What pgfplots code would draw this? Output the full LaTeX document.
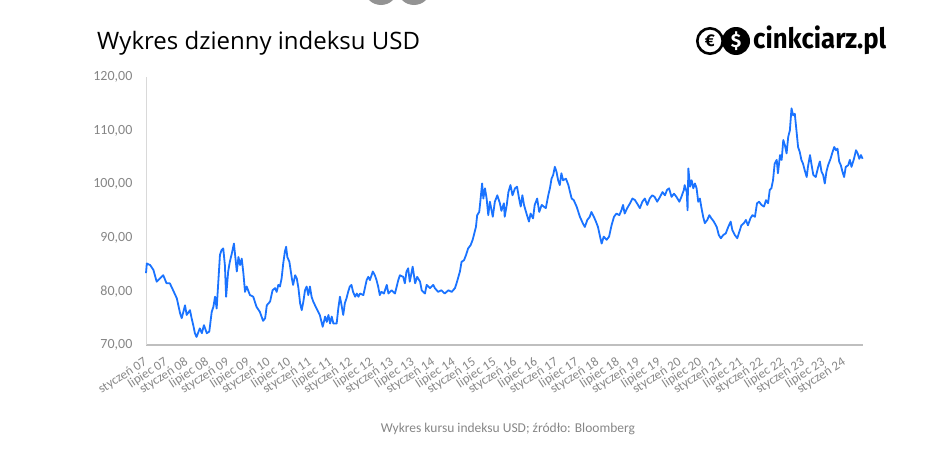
\documentclass[border=0pt]{standalone}
\usepackage{pgfplots}
\pgfplotsset{compat=1.18}
\usepackage{fontspec}
\setmainfont{Carlito}
\newfontfamily\titlefont{Open Sans}
\newfontfamily\logofont{Fira Sans}
\definecolor{usdblue}{HTML}{1A73FF}
\definecolor{labgray}{RGB}{134,134,134}
\definecolor{xaxgray}{RGB}{191,191,191}
\definecolor{yaxgray}{RGB}{217,217,217}
\begin{document}
\begin{tikzpicture}
\path[use as bounding box] (-146pt,-114pt) rectangle (802pt,345pt);
\begin{scope}
\clip (-146pt,-114pt) rectangle (802pt,345pt);
\fill[gray!85] (235pt,357pt) circle (17pt);
\fill[gray!85] (268pt,357pt) circle (17pt);
\end{scope}
\begin{axis}[
  at={(0pt,0pt)}, anchor=south west,
  scale only axis, width=717pt, height=268.3pt,
  xmin=2007, xmax=2024.45, ymin=70, ymax=120,
  axis lines=left,
  x axis line style={-, draw=xaxgray, line width=1.2pt},
  y axis line style={-, draw=yaxgray, line width=0.8pt},
  tick style={draw=none},
  ytick={70,80,90,100,110,120},
  yticklabels={{70,00},{80,00},{90,00},{100,00},{110,00},{120,00}},
  yticklabel style={font=\fontsize{14}{16}\selectfont, text=labgray, xshift=-8pt},
  xtick={2007,2007.5,2008,2008.5,2009,2009.5,2010,2010.5,2011,2011.5,2012,2012.5,2013,2013.5,2014,2014.5,2015,2015.5,2016,2016.5,2017,2017.5,2018,2018.5,2019,2019.5,2020,2020.5,2021,2021.5,2022,2022.5,2023,2023.5,2024},
  xticklabels={styczeń 07,lipiec 07,styczeń 08,lipiec 08,styczeń 09,lipiec 09,styczeń 10,lipiec 10,styczeń 11,lipiec 11,styczeń 12,lipiec 12,styczeń 13,lipiec 13,styczeń 14,lipiec 14,styczeń 15,lipiec 15,styczeń 16,lipiec 16,styczeń 17,lipiec 17,styczeń 18,lipiec 18,styczeń 19,lipiec 19,styczeń 20,lipiec 20,styczeń 21,lipiec 21,styczeń 22,lipiec 22,styczeń 23,lipiec 23,styczeń 24},
  xticklabel style={font=\fontsize{13}{15}\selectfont, text=labgray, rotate=33, anchor=east, inner sep=0pt},
  xticklabel shift=14pt,
  clip=false,
]
\addplot[usdblue, line width=1.8pt, line join=round] table {
2007.00 83.4
2007.02 85.2
2007.10 84.9
2007.18 84.0
2007.26 81.8
2007.34 82.4
2007.42 83.0
2007.50 81.5
2007.58 81.5
2007.66 80.2
2007.75 78.7
2007.83 75.9
2007.87 75.0
2007.95 77.4
2007.99 75.6
2008.07 76.5
2008.11 75.0
2008.15 73.7
2008.19 72.2
2008.23 71.5
2008.31 73.1
2008.36 72.2
2008.41 73.7
2008.48 72.2
2008.54 72.5
2008.60 76.2
2008.64 77.1
2008.68 79.0
2008.72 76.8
2008.76 81.8
2008.80 86.8
2008.84 87.7
2008.88 88.0
2008.92 84.9
2008.95 79.0
2009.00 83.7
2009.04 85.5
2009.09 87.1
2009.14 88.9
2009.21 83.7
2009.25 86.4
2009.29 84.9
2009.33 86.1
2009.37 83.4
2009.41 79.9
2009.45 80.9
2009.53 79.3
2009.61 79.0
2009.69 77.1
2009.77 76.2
2009.85 74.5
2009.90 75.0
2009.94 77.4
2010.02 78.1
2010.08 80.2
2010.14 80.6
2010.18 79.9
2010.22 81.2
2010.26 80.9
2010.30 82.4
2010.34 85.2
2010.38 87.4
2010.41 88.3
2010.44 86.4
2010.49 85.5
2010.55 82.4
2010.58 81.2
2010.63 83.0
2010.67 82.4
2010.71 80.6
2010.75 77.8
2010.79 76.5
2010.83 78.1
2010.87 80.2
2010.91 80.9
2010.95 79.3
2010.99 80.9
2011.03 79.0
2011.07 78.1
2011.15 76.8
2011.23 75.6
2011.30 73.4
2011.36 75.3
2011.40 74.3
2011.44 75.6
2011.48 74.0
2011.52 75.3
2011.56 74.0
2011.64 74.0
2011.68 76.8
2011.72 79.0
2011.76 77.4
2011.80 75.6
2011.84 77.8
2011.88 78.7
2011.92 79.9
2011.96 80.9
2012.00 81.2
2012.04 79.9
2012.09 79.0
2012.13 79.6
2012.17 79.0
2012.21 79.6
2012.29 79.3
2012.37 82.1
2012.41 82.7
2012.45 82.1
2012.52 83.7
2012.57 83.0
2012.61 82.1
2012.65 80.9
2012.69 79.3
2012.73 79.9
2012.79 79.6
2012.86 81.2
2012.90 79.6
2012.98 80.2
2013.06 79.6
2013.14 82.1
2013.18 83.0
2013.26 82.7
2013.30 81.5
2013.34 83.7
2013.38 84.3
2013.42 81.8
2013.49 84.6
2013.55 81.5
2013.60 82.7
2013.67 81.8
2013.71 80.2
2013.79 79.6
2013.83 81.2
2013.91 80.6
2013.99 81.2
2014.03 80.6
2014.11 79.9
2014.19 80.2
2014.27 79.6
2014.36 80.2
2014.44 79.9
2014.52 80.6
2014.57 81.8
2014.64 83.7
2014.68 85.5
2014.74 85.8
2014.79 86.8
2014.84 88.0
2014.90 88.6
2014.95 89.6
2014.99 90.8
2015.03 92.0
2015.06 94.2
2015.11 94.8
2015.14 97.0
2015.18 100.1
2015.21 97.3
2015.25 99.2
2015.29 97.3
2015.33 94.2
2015.37 96.7
2015.44 93.9
2015.49 96.7
2015.55 97.9
2015.61 96.5
2015.65 95.0
2015.71 96.4
2015.73 93.9
2015.78 96.1
2015.82 98.5
2015.87 99.8
2015.92 97.9
2015.98 99.2
2016.03 99.5
2016.08 97.3
2016.12 95.8
2016.16 97.9
2016.20 96.1
2016.26 94.5
2016.32 93.0
2016.36 94.5
2016.42 93.6
2016.46 96.1
2016.52 97.3
2016.57 94.8
2016.63 96.1
2016.68 95.8
2016.73 95.5
2016.79 97.9
2016.83 99.2
2016.87 101.0
2016.91 101.7
2016.95 103.2
2016.99 102.3
2017.03 100.7
2017.07 99.8
2017.11 102.0
2017.15 100.7
2017.22 101.0
2017.28 99.8
2017.32 98.5
2017.36 97.3
2017.41 97.0
2017.48 95.8
2017.56 93.9
2017.63 92.7
2017.68 92.0
2017.74 93.3
2017.80 93.9
2017.84 94.8
2017.90 93.9
2017.95 93.0
2018.00 92.0
2018.05 90.2
2018.09 88.9
2018.14 90.2
2018.21 89.6
2018.27 90.2
2018.33 92.3
2018.39 93.9
2018.45 94.5
2018.52 94.2
2018.57 95.1
2018.61 96.1
2018.65 94.5
2018.71 95.5
2018.78 96.4
2018.84 97.3
2018.90 97.0
2018.95 96.4
2019.02 95.5
2019.08 96.7
2019.14 97.3
2019.20 96.1
2019.26 97.3
2019.32 97.9
2019.38 97.6
2019.44 96.7
2019.51 97.6
2019.57 98.5
2019.63 97.9
2019.68 98.9
2019.73 99.2
2019.79 97.6
2019.85 98.2
2019.91 97.6
2019.98 96.7
2020.03 97.6
2020.09 98.9
2020.11 99.8
2020.16 98.5
2020.18 95.1
2020.20 102.9
2020.24 99.5
2020.28 100.7
2020.32 99.2
2020.36 100.1
2020.40 99.2
2020.44 96.7
2020.48 97.3
2020.52 95.5
2020.56 93.9
2020.60 92.7
2020.66 93.3
2020.71 94.2
2020.76 93.6
2020.82 93.0
2020.89 92.0
2020.94 90.5
2020.99 89.9
2021.05 90.5
2021.11 90.8
2021.17 92.0
2021.23 93.0
2021.27 91.4
2021.33 90.5
2021.39 89.9
2021.44 91.1
2021.49 92.3
2021.55 92.7
2021.60 93.3
2021.65 92.3
2021.71 93.6
2021.76 94.2
2021.82 93.9
2021.87 96.4
2021.92 96.7
2021.98 96.1
2022.04 95.8
2022.09 97.0
2022.14 96.4
2022.18 98.9
2022.22 99.2
2022.26 100.7
2022.30 103.8
2022.35 104.5
2022.38 102.0
2022.43 105.4
2022.47 104.5
2022.51 108.2
2022.55 107.2
2022.59 105.7
2022.63 108.8
2022.67 110.0
2022.71 114.1
2022.75 112.8
2022.79 113.1
2022.83 110.0
2022.87 106.9
2022.91 106.0
2022.95 104.5
2022.99 103.8
2023.03 102.6
2023.08 101.3
2023.11 103.2
2023.16 105.4
2023.20 103.5
2023.24 101.7
2023.30 101.3
2023.36 103.2
2023.40 104.2
2023.44 102.3
2023.48 101.7
2023.52 100.1
2023.56 102.3
2023.60 103.5
2023.66 104.7
2023.71 106.0
2023.75 106.9
2023.79 106.3
2023.83 106.6
2023.87 104.2
2023.91 103.5
2023.95 102.3
2023.99 101.3
2024.03 103.2
2024.09 103.5
2024.13 104.5
2024.17 103.2
2024.23 104.7
2024.28 106.3
2024.32 105.7
2024.36 104.7
2024.40 105.4
2024.44 104.7
};
\end{axis}
\node[anchor=base west, inner sep=0pt] at (-49pt,296pt) {\titlefont\fontsize{24}{28}\selectfont Wykres dzienny indeksu USD};
\draw[black, line width=2.6pt] (564pt,304pt) circle (12.7pt);
\node[inner sep=0pt] at (564pt,304pt) {\logofont\bfseries\fontsize{17}{18}\selectfont €};
\fill[black] (590pt,304pt) circle (14pt);
\node[inner sep=0pt, text=white] at (590pt,304pt) {\logofont\bfseries\fontsize{19}{20}\selectfont \$};
\node[anchor=base west, inner sep=0pt] at (607pt,297pt) {\scalebox{0.92}[1]{\logofont\bfseries\fontsize{28}{30}\selectfont cinkciarz.pl}};
\node[anchor=base, inner sep=0pt, text=labgray] at (362pt,-87pt) {\fontsize{13.5}{15}\selectfont Wykres kursu indeksu USD; źródło: Bloomberg};
\end{tikzpicture}
\end{document}
